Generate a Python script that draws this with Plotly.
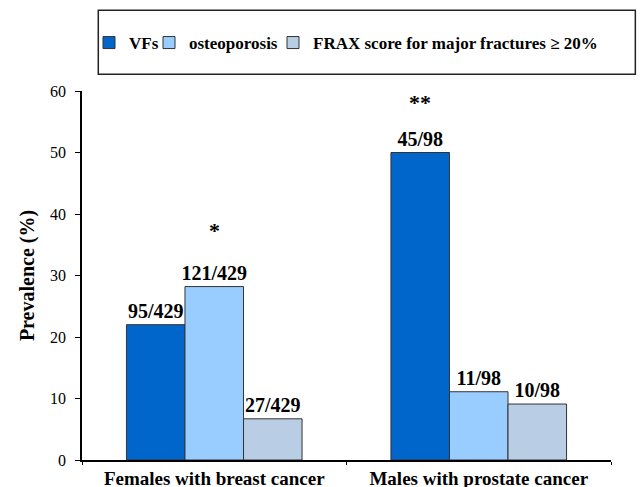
import plotly.graph_objects as go

categories = ["Females with breast cancer", "Males with prostate cancer"]
series_names = ["VFs", "osteoporosis", "FRAX score for major fractures \u2265 20%"]
vfs_values = [22.0, 50.0]
osteo_values = [28.2, 11.1]
frax_values = [6.7, 9.1]
vfs_labels = ["95/429", "45/98"]
osteo_labels = ["121/429", "11/98"]
frax_labels = ["27/429", "10/98"]
colors = ["#0066CC", "#99CCFF", "#B9CDE5"]
# significance markers: (category index, series index, text, y position)
sig_category = [0, 1]
sig_series = [1, 0]
sig_text = ["*", "**"]
sig_y = [37.3, 58.2]

SERIF = "Liberation Serif"

fig = go.Figure()
values = [vfs_values, osteo_values, frax_values]
labels = [vfs_labels, osteo_labels, frax_labels]
legend_ids = ["legend", "legend2", "legend3"]
for name, vals, labs, col, lg in zip(series_names, values, labels, colors, legend_ids):
    fig.add_trace(go.Bar(
        x=categories, y=vals, name=name, legend=lg,
        marker=dict(color=col, line=dict(color="#333333", width=1)),
        text=labs, textposition="outside", constraintext="none",
        textfont=dict(family=SERIF, size=20, color="black", weight="bold"),
        cliponaxis=False,
    ))

bar_px = 58.7
for ci, si, t, yv in zip(sig_category, sig_series, sig_text, sig_y):
    fig.add_annotation(x=categories[ci], y=yv, text=t, showarrow=False,
                       xref="x", yref="y", xshift=(si - 1) * bar_px,
                       font=dict(family=SERIF, size=22, color="black", weight="bold"))

# legend frame
fig.add_shape(type="rect", xref="paper", yref="paper",
              x0=0.0308, x1=1.046, y0=1.0453, y1=1.2188,
              line=dict(color="#222222", width=1.5), fillcolor="rgba(0,0,0,0)")

legend_x_px = [89, 149, 273]
legend_common = dict(orientation="h", xref="container", yref="container",
                     xanchor="left", yanchor="middle", y=1 - 43 / 487,
                     font=dict(family=SERIF, size=17, color="black", weight="bold"),
                     bgcolor="rgba(0,0,0,0)", itemwidth=30, borderwidth=0)
fig.update_layout(
    width=640, height=487,
    margin=dict(l=82, r=29, t=91, b=27, pad=0, autoexpand=False),
    paper_bgcolor="white", plot_bgcolor="white",
    barmode="group", bargap=0.336, bargroupgap=0,
    font=dict(family=SERIF, color="black"),
    showlegend=True,
    legend=dict(x=legend_x_px[0] / 640, **legend_common),
    legend2=dict(x=legend_x_px[1] / 640, **legend_common),
    legend3=dict(x=legend_x_px[2] / 640, **legend_common),
)
fig.update_yaxes(range=[0, 60], dtick=10, showgrid=False, zeroline=False,
                 showline=True, linecolor="black", linewidth=1.5,
                 ticks="outside", ticklen=5, tickcolor="black", ticklabelstandoff=6,
                 tickfont=dict(family=SERIF, size=16, color="black"),
                 title=dict(text="Prevalence (%)", standoff=10,
                            font=dict(family=SERIF, size=20, color="black", weight="bold")))
fig.update_xaxes(showgrid=False, showline=True, linecolor="black", linewidth=1.5,
                 ticks="outside", ticklen=3, tickcolor="black", tickson="boundaries",
                 ticklabelstandoff=0,
                 tickfont=dict(family=SERIF, size=19, color="black", weight="bold"))

fig.write_html("out.html", config={"displayModeBar": False},
               post_script="document.body.style.margin='0';")
